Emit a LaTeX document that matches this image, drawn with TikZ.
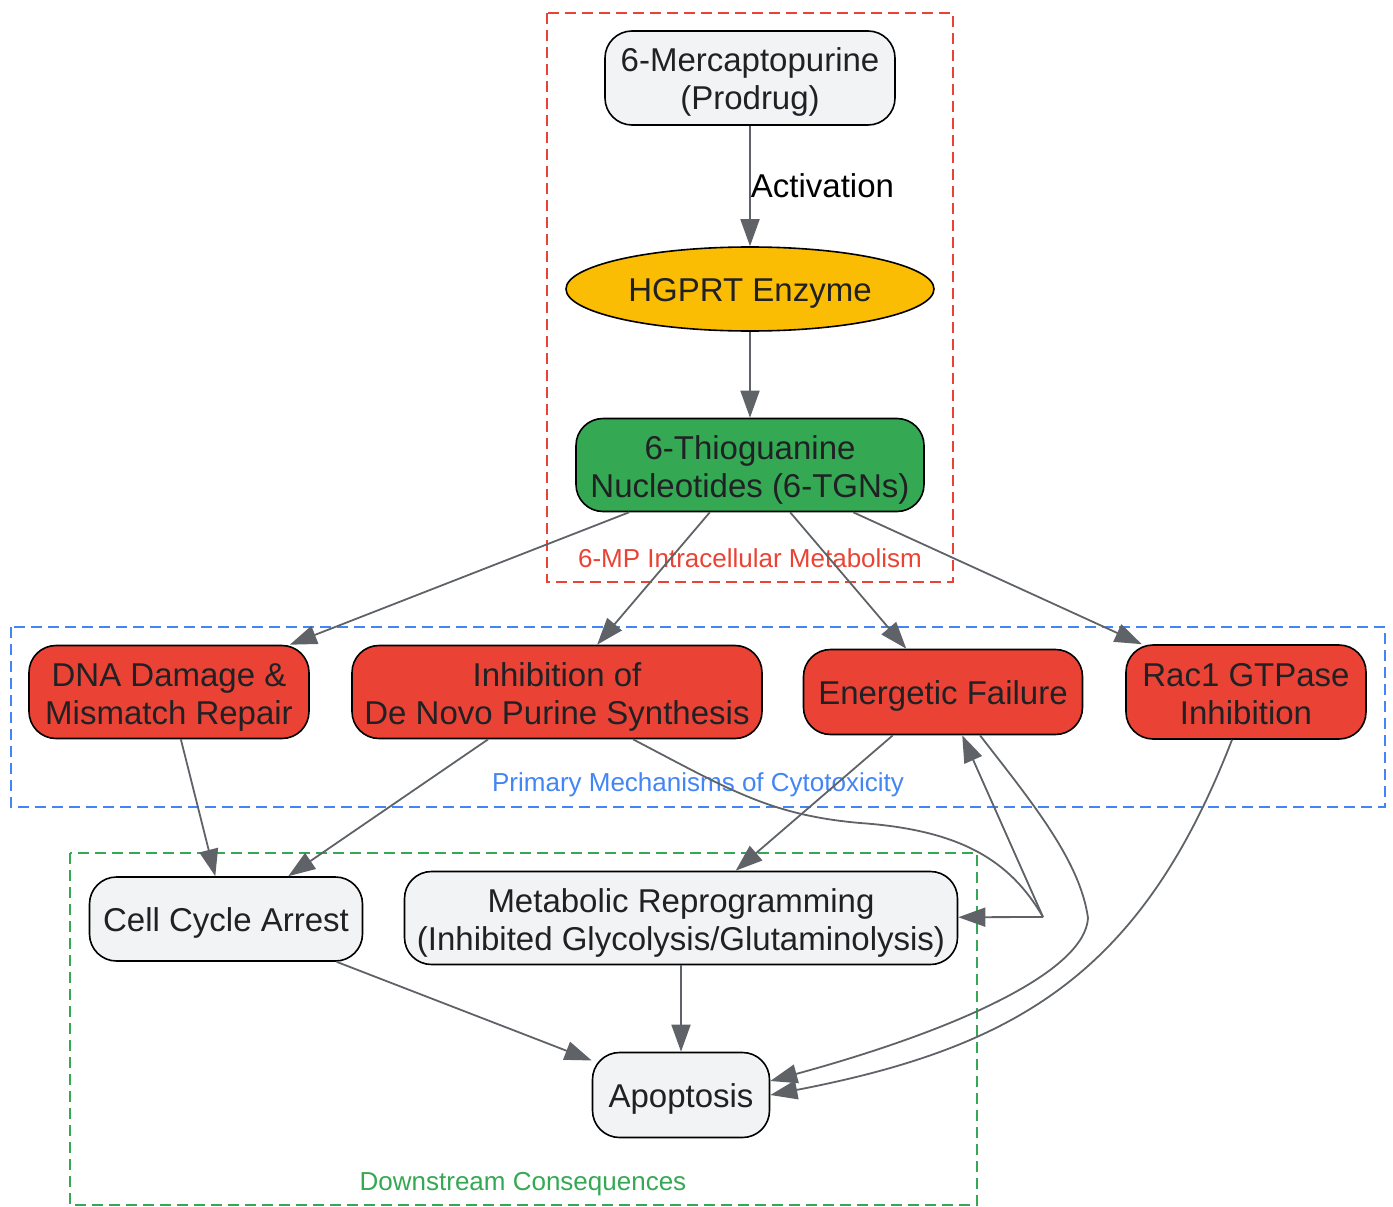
\documentclass[tikz,border=0pt]{standalone}
\usepackage{fontspec}
\setmainfont{Liberation Sans}
\usetikzlibrary{shapes.geometric}
\usetikzlibrary{arrows.meta}
\usetikzlibrary{calc,positioning}

\definecolor{linegrey}{HTML}{5F6368}
\definecolor{textgrey}{HTML}{202124}
\definecolor{lightgrey}{HTML}{F1F3F4}
\definecolor{gred}{HTML}{EA4335}
\definecolor{gblue}{HTML}{4285F4}
\definecolor{ggreen}{HTML}{34A853}
\definecolor{gyellow}{HTML}{FBBC04}

\begin{document}
\begin{tikzpicture}[x=1pt, y=-1pt,
  txt/.style = {align=center, text=textgrey, font=\fontsize{33}{38}\selectfont, inner sep=0, draw=black, line width=1.6pt,
    execute at begin node={\rule{0pt}{33pt}}, execute at end node={\rule[-9pt]{0pt}{9pt}}},
  tall/.style = {execute at begin node={\rule{0pt}{73pt}}},
  box/.style = {txt, rectangle, rounded corners=27pt},
  flow/.style = {draw=linegrey, line width=1.8pt, -{Triangle[length=27pt, width=19pt]}},
  link/.style = {draw=linegrey, line width=1.8pt},
  cluster/.style = {dashed, dash pattern=on 11pt off 6pt, line width=1.6pt},
  clabel/.style = {font=\fontsize{26}{30}\selectfont, inner sep=0}]

\useasboundingbox (0,0) rectangle (1393,1207);

% clusters
\draw[cluster, gred] (547,13) rectangle (953,582);
\node[clabel, text=gred] (lmeta) at (750,558) {6-MP Intracellular Metabolism};
\draw[cluster, gblue] (11,627) rectangle (1385,807);
\node[clabel, text=gblue] (lprim) at (698,785) {Primary Mechanisms of Cytotoxicity};
\draw[cluster, ggreen] (70,853) rectangle (977,1205);
\node[clabel, text=ggreen] (ldown) at (523,1184) {Downstream Consequences};

% nodes
\node[box, tall, fill=lightgrey, minimum width=290pt, minimum height=94pt](mp) at (750,78){6-Mercaptopurine\\(Prodrug)};
\node[txt, ellipse, fill=gyellow, minimum width=368pt, minimum height=84pt, below of=mp, node distance=211pt](hgprt){HGPRT Enzyme};
\node[box, tall, fill=ggreen, minimum width=348pt, minimum height=93pt, below of=hgprt, node distance=176pt](tgn){6-Thioguanine\\Nucleotides (6-TGNs)};
\node[box, tall, fill=gred, minimum width=280pt, minimum height=93pt](dna) at (169,692){DNA Damage \&\\Mismatch Repair};
\node[box, tall, fill=gred, minimum width=410pt, minimum height=93pt](inh) at (557,692){Inhibition of\\De Novo Purine Synthesis};
\node[box, fill=gred, minimum width=279pt, minimum height=85pt](ener) at (943,692){Energetic Failure};
\node[box, tall, fill=gred, minimum width=240pt, minimum height=94pt, right of=ener, node distance=303pt](rac){Rac1 GTPase\\Inhibition};
\node[box, fill=lightgrey, minimum width=273pt, minimum height=84pt](cca) at (226,919){Cell Cycle Arrest};
\node[box, tall, fill=lightgrey, minimum width=553pt, minimum height=93pt](meta) at (681,918){Metabolic Reprogramming\\(Inhibited Glycolysis/Glutaminolysis)};
\node[box, fill=lightgrey, minimum width=177pt, minimum height=85pt](apo) at (681,1095){Apoptosis};

\coordinate (j1) at (1043,917);
\coordinate (j2) at (1088,918);

% edges
\draw [flow] (mp) to node[right, inner sep=0, text=black, font=\fontsize{33}{38}\selectfont](act){Activation} (hgprt);
\draw [flow] (hgprt) to (tgn);
\draw [flow] (tgn) to (dna);
\draw [flow] (tgn) to (inh);
\draw [flow] (tgn) to (ener);
\draw [flow] (tgn) to (rac);
\draw [flow] (dna) to (cca);
\draw [flow] (inh) to (cca);
\draw [link] ([xshift=76pt]inh.south) .. controls (730,790) and (770,815) .. (860,823) .. controls (960,830) and (1010,860) .. (j1);
\draw [flow] (j1) to (ener);
\draw [flow] (j1) to (meta);
\draw [flow] (ener) to (meta);
\draw [link] ([xshift=37pt]ener.south) .. controls (1030,800) and (1080,860) .. (j2);
\draw [flow] (j2) .. controls (1085,970) and (964,1028) .. ([yshift=14pt]apo.east);
\draw [flow] ([xshift=-14pt]rac.south) .. controls (1142,972) and (1019,1047) .. (apo.east);
\draw [flow] (cca) to (apo);
\draw [flow] (meta) to (apo);

\end{tikzpicture}
\end{document}
